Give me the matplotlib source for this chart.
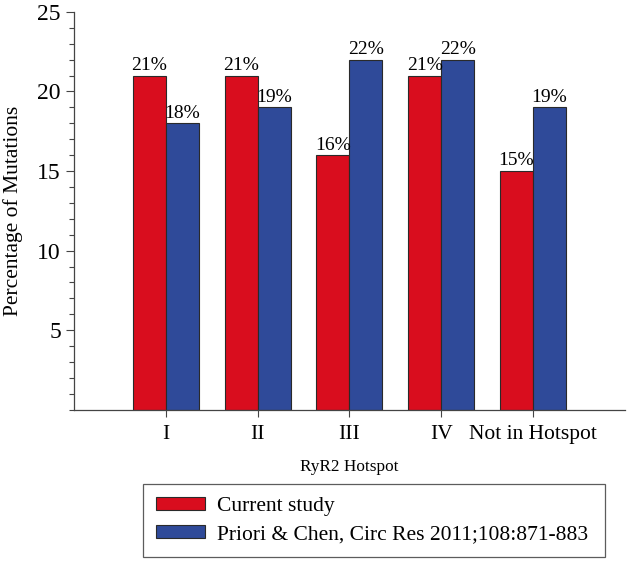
import matplotlib.pyplot as plt
import numpy as np
from matplotlib.ticker import MultipleLocator

hotspots = ["I", "II", "III", "IV", "Not in Hotspot"]
current_study = [21, 21, 16, 21, 15]
priori_chen = [18, 19, 22, 22, 19]
series_names = ["Current study", "Priori & Chen, Circ Res 2011;108:871-883"]

RED = "#d90d1e"
BLUE = "#2f4a99"
EDGE = "#2a2a2a"

plt.rcParams["font.family"] = ["Liberation Serif", "DejaVu Serif"]

fig = plt.figure(figsize=(6.33, 5.63), dpi=100)
ax = fig.add_axes([0.117, 0.272, 0.870, 0.707])

x = np.arange(len(hotspots))
w = 0.36
b1 = ax.bar(x - w / 2, current_study, w, color=RED, edgecolor=EDGE,
            linewidth=0.8, label=series_names[0])
b2 = ax.bar(x + w / 2, priori_chen, w, color=BLUE, edgecolor=EDGE,
            linewidth=0.8, label=series_names[1])

for bars, vals in ((b1, current_study), (b2, priori_chen)):
    for bar, v in zip(bars, vals):
        ax.text(bar.get_x() + bar.get_width() / 2, v + 0.1, f"{v}%",
                ha="center", va="bottom", fontsize=14)

ax.set_xlim(-1, 5)
ax.set_ylim(0, 25)
ax.set_xticks(x)
ax.set_xticklabels(hotspots, fontsize=15.5)
ax.set_yticks([5, 10, 15, 20, 25])
ax.tick_params(axis="y", labelsize=17, length=6, width=0.8, color="#444444")
ax.yaxis.set_minor_locator(MultipleLocator(1))
ax.tick_params(axis="y", which="minor", length=3.5, width=0.8, color="#444444")
ax.tick_params(axis="x", length=5, width=0.8, color="#444444", pad=6)

for side in ("top", "right"):
    ax.spines[side].set_visible(False)
for side in ("left", "bottom"):
    ax.spines[side].set_color("#444444")
    ax.spines[side].set_linewidth(0.9)

ax.set_ylabel("Percentage of Mutations", fontsize=15.5, labelpad=10)
ax.set_xlabel("RyR2 Hotspot", fontsize=12.4, labelpad=11)

leg = fig.legend(handles=[b1, b2], loc="upper left", mode="expand",
                 bbox_to_anchor=(143 / 633, 1 - 557 / 563, 462 / 633, 73 / 563),
                 fontsize=15.5, frameon=True, fancybox=False,
                 edgecolor="#333333", handlelength=2.3, handleheight=0.55,
                 handletextpad=0.55, labelspacing=0.4, borderpad=0.6,
                 borderaxespad=0)
leg.get_frame().set_linewidth(0.9)

fig.savefig("out.png", dpi=100)
